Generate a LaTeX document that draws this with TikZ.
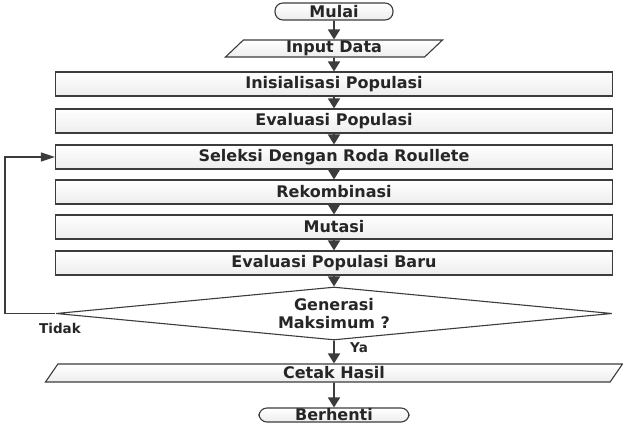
\documentclass[tikz,border=0pt]{standalone}
\usepackage{fontspec}
\setmainfont{DejaVu Sans}
\usetikzlibrary{shapes.geometric,arrows.meta}

\definecolor{garis}{HTML}{3C3C3C}
\definecolor{isi}{HTML}{EDEDED}

\begin{document}
\begin{tikzpicture}[
  x=1pt, y=-1pt,
  teks/.style={font=\bfseries\fontsize{16}{17.5}\selectfont, text=black!85},
  proses/.style={
    teks, draw=garis, line width=1.1pt,
    top color=white, bottom color=isi,
    minimum width=557pt, minimum height=24pt, inner sep=0pt
  },
  terminal/.style={
    teks, draw=garis, line width=1.1pt,
    top color=white, bottom color=isi,
    rounded corners=8pt, inner sep=0pt
  },
  io/.style={
    teks, trapezium, trapezium stretches body,
    draw=garis, line width=1.1pt,
    top color=white, bottom color=isi, inner sep=0pt
  },
  keputusan/.style={
    teks, diamond, aspect=10, align=center,
    draw=garis, line width=1.1pt, fill=white, inner sep=0pt,
    minimum width=556pt, minimum height=53pt
  },
  panah/.style={draw=garis, line width=1.8pt, -{Triangle[width=12pt,length=10pt]}},
  label/.style={font=\bfseries\fontsize{13.5}{15}\selectfont, text=black!85}
]
\useasboundingbox (0,0) rectangle (623,428);

% ================= AWAL =================
\node[terminal, minimum width=118pt, minimum height=17pt] (mulai) at (334,11.5) {Mulai};
\node[io, trapezium left angle=40, trapezium right angle=140,
      minimum width=217pt, minimum height=17pt] (input) at (334,48.5) {Input Data};

% ================= PROSES =================
\node[proses] (init)    at (334,84)  {Inisialisasi Populasi};
\node[proses] (eval)    at (334,121) {Evaluasi Populasi};
\node[proses] (seleksi) at (334,157) {Seleksi Dengan Roda Roullete};
\node[proses] (rekom)   at (334,192) {Rekombinasi};
\node[proses] (mutasi)  at (334,227) {Mutasi};
\node[proses] (evalbaru) at (334,263) {Evaluasi Populasi Baru};

% ================= CEK =================
\node[keputusan] (cek) at (334,313.5) {Generasi\\Maksimum ?};

% ================= AKHIR =================
\node[io, trapezium left angle=45, trapezium right angle=135,
      minimum width=577pt, minimum height=18pt] (cetak) at (334,373) {Cetak Hasil};
\node[terminal, minimum width=150pt, minimum height=14pt] (selesai) at (334,415) {Berhenti};

% ================= PANAH =================
\foreach \a/\b in {mulai/input, input/init, init/eval, eval/seleksi,
  seleksi/rekom, rekom/mutasi, mutasi/evalbaru, evalbaru/cek, cetak/selesai}
{
  \draw[panah] (\a.south) -- (\b.north);
}

\draw[panah] (cek.south) -- node[label, right=12pt, pos=0.3] (ya) {Ya} (cetak.north);

% loop kembali ke seleksi
\coordinate (balik) at (5,313.5);
\draw[draw=garis, line width=1.2pt, -{Triangle[width=9pt,length=14pt]}]
  (cek.west) -- (balik) |- (seleksi.west);
\node[label] (tidak) at (60,328) {Tidak};

\end{tikzpicture}
\end{document}
